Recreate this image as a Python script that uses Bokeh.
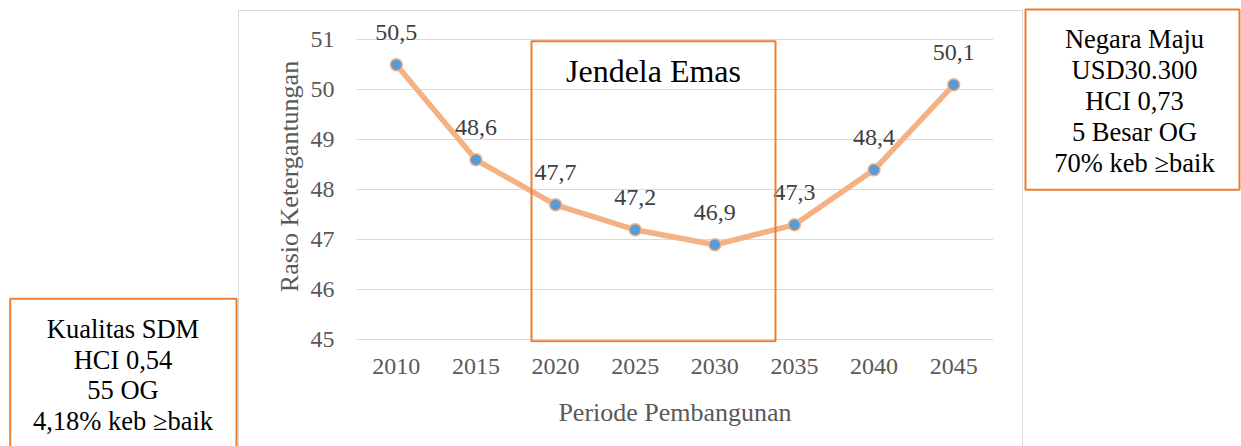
from bokeh.plotting import figure
from bokeh.layouts import row, column
from bokeh.models import Range1d, FixedTicker, BoxAnnotation
from bokeh.core.properties import value
from bokeh.embed import file_html
from bokeh.resources import INLINE

# ---- data ----
years = [2010, 2015, 2020, 2025, 2030, 2035, 2040, 2045]
ratio = [50.5, 48.6, 47.7, 47.2, 46.9, 47.3, 48.4, 50.1]
y_ticks = [45, 46, 47, 48, 49, 50, 51]
point_labels = [f"{v:.1f}".replace(".", ",") for v in ratio]
x_title = "Periode Pembangunan"
y_title = "Rasio Ketergantungan"
window_title = "Jendela Emas"
window_years = [2018.49, 2033.81]
window_values = [44.97, 50.97]
left_box_lines = ["Kualitas SDM", "HCI 0,54", "55 OG", "4,18% keb \u2265baik"]
right_box_lines = ["Negara Maju", "USD30.300", "HCI 0,73", "5 Besar OG", "70% keb \u2265baik"]

# ---- style ----
FONT = "Liberation Serif"
ORANGE = "#ED7D31"
LINE = "#F4B183"
BLUE = "#5B9BD5"
GRID = "#D9D9D9"
H = 446
W_LEFT, W_MAIN, W_RIGHT = 238, 785, 218


def box_fig(w, x0, x1, y0, y1, lines, cx, first, step):
    f = figure(width=w, height=H, x_range=Range1d(0, w), y_range=Range1d(H, 0),
               output_backend="svg", toolbar_location=None, min_border=0,
               x_axis_location=None, y_axis_location=None)
    f.grid.visible = False
    f.outline_line_color = None
    f.quad(left=[x0], right=[x1], top=[y0], bottom=[y1], fill_color=None,
           line_color=ORANGE, line_width=2)
    ys = [first + i * step for i in range(len(lines))]
    f.text(x=[cx] * len(lines), y=ys, text=lines, text_font=value(FONT),
           text_font_size="26.5px", text_align="center", text_baseline="middle",
           text_color="black")
    return f


left = box_fig(W_LEFT, 9.7, 236, 298.3, 470, left_box_lines, 122.5, 328.5, 30.57)
right = box_fig(W_RIGHT, 2, 216, 9, 189.3, right_box_lines, 111, 38.9, 30.8)

p = figure(width=W_MAIN, height=H, x_range=Range1d(2007.5, 2047.5),
           y_range=Range1d(44.946, 51.586), output_backend="svg",
           toolbar_location=None, min_border_left=118, min_border_right=30,
           min_border_top=10, min_border_bottom=104)
p.background_fill_color = None
p.border_fill_color = None
p.outline_line_color = None
p.styles = {
    "background-color": "white",
    "background-image": "linear-gradient(#D9D9D9, #D9D9D9), linear-gradient(#D9D9D9, #D9D9D9), linear-gradient(#D9D9D9, #D9D9D9)",
    "background-size": "1px 100%, 1px 100%, 100% 1px",
    "background-position": "0 10px, 100% 10px, 0 10px",
    "background-repeat": "no-repeat",
}

p.xaxis.ticker = FixedTicker(ticks=years)
p.yaxis.ticker = FixedTicker(ticks=y_ticks)
p.xgrid.visible = False
p.ygrid.grid_line_color = GRID
p.ygrid.grid_line_width = 1
for ax in (p.xaxis[0], p.yaxis[0]):
    ax.axis_line_color = None
    ax.major_tick_line_color = None
    ax.minor_tick_line_color = None
    ax.major_tick_out = 0
    ax.major_tick_in = 0
    ax.major_label_text_font = FONT
    ax.major_label_text_font_size = "24px"
    ax.major_label_text_color = "#595959"
    ax.axis_label_text_font = FONT
    ax.axis_label_text_font_size = "26px"
    ax.axis_label_text_font_style = "normal"
    ax.axis_label_text_color = "#595959"
p.xaxis.axis_label = x_title
p.yaxis.axis_label = y_title
p.yaxis.major_label_standoff = 22
p.xaxis.major_label_standoff = 16
p.xaxis.axis_label_standoff = 21
p.yaxis.axis_label_standoff = 4

p.add_layout(BoxAnnotation(left=window_years[0], right=window_years[1],
                           bottom=window_values[0], top=window_values[1],
                           fill_alpha=0, line_alpha=1, line_color=ORANGE, line_width=2))
p.text(x=[sum(window_years) / 2], y=[window_values[1] - 29.6 / 50], text=[window_title],
       text_font=value(FONT), text_font_size="32px", text_align="center",
       text_baseline="middle", text_color="black")

p.line(years, ratio, line_color=LINE, line_width=5.5)
p.scatter(years, ratio, size=12, fill_color=BLUE, line_color=LINE, line_width=1.5)
p.text(x=years, y=ratio, text=point_labels, y_offset=-32, text_font=value(FONT),
       text_font_size="24px", text_align="center", text_baseline="middle",
       text_color="#404040")

layout = row(column(left), column(p), column(right))
open("out.html", "w").write(file_html(layout, INLINE))
